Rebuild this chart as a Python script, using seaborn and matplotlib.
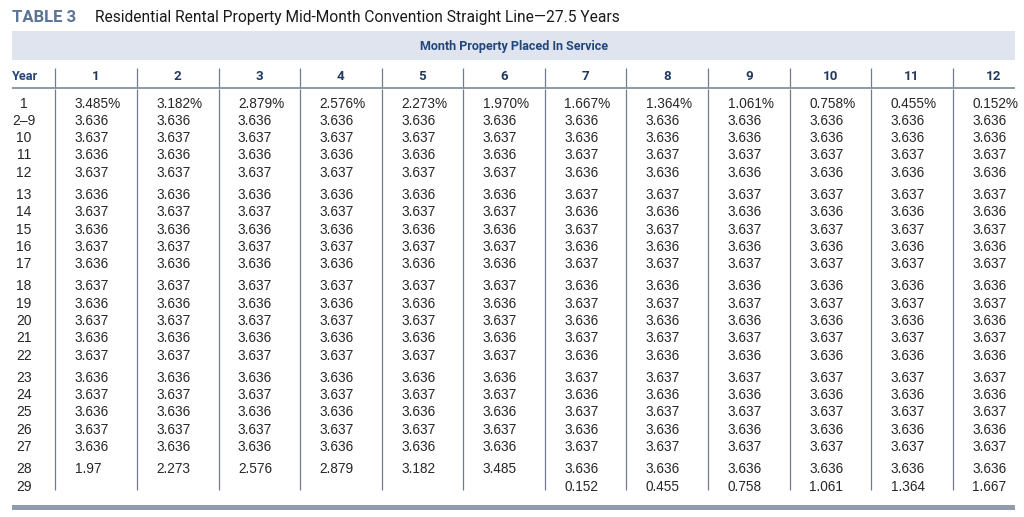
import matplotlib
matplotlib.use("Agg")
import matplotlib.pyplot as plt
import seaborn as sns

# ---------------- data ----------------
title_tag = "TABLE 3"
title_text = "Residential Rental Property Mid-Month Convention Straight Line\u201427.5 Years"
band_text = "Month Property Placed In Service"
months = ["1", "2", "3", "4", "5", "6", "7", "8", "9", "10", "11", "12"]
year_labels = ["1", "2\u20139", "10", "11", "12",
               "13", "14", "15", "16", "17",
               "18", "19", "20", "21", "22",
               "23", "24", "25", "26", "27",
               "28", "29"]
year_groups = [0, 0, 0, 0, 0, 1, 1, 1, 1, 1, 2, 2, 2, 2, 2, 3, 3, 3, 3, 3, 4, 4]

first_year = ["3.485%", "3.182%", "2.879%", "2.576%", "2.273%", "1.970%",
              "1.667%", "1.364%", "1.061%", "0.758%", "0.455%", "0.152%"]
years_2_9 = ["3.636", "3.636", "3.636", "3.636", "3.636", "3.636",
             "3.636", "3.636", "3.636", "3.636", "3.636", "3.636"]
# years 10..27, months 1-6 and months 7-12
middle_m1_6 = ["3.637", "3.636", "3.637", "3.636", "3.637", "3.636",
               "3.637", "3.636", "3.637", "3.636", "3.637", "3.636",
               "3.637", "3.636", "3.637", "3.636", "3.637", "3.636"]
middle_m7_12 = ["3.636", "3.637", "3.636", "3.637", "3.636", "3.637",
                "3.636", "3.637", "3.636", "3.637", "3.636", "3.637",
                "3.636", "3.637", "3.636", "3.637", "3.636", "3.637"]
year_28 = ["1.97", "2.273", "2.576", "2.879", "3.182", "3.485",
           "3.636", "3.636", "3.636", "3.636", "3.636", "3.636"]
year_29 = ["", "", "", "", "", "",
           "0.152", "0.455", "0.758", "1.061", "1.364", "1.667"]

# build the table column by column
table = []
for m in range(12):
    mid = middle_m1_6 if m < 6 else middle_m7_12
    table.append([first_year[m], years_2_9[m]] + mid + [year_28[m], year_29[m]])

# ---------------- style ----------------
sns.set_theme(style="white")
plt.rcParams["font.family"] = ["Liberation Sans", "DejaVu Sans"]
narrow = ["Roboto", "DejaVu Sans"]

navy = "#23467a"
dark_navy = "#213a5e"
steel = "#5b7595"
line_c = "#6e7e8e"
band_c = "#dfe4ee"
bar_c = "#8e9cab"
text_c = "#262626"

fig = plt.figure(figsize=(10.24, 5.17), dpi=100)
ax = fig.add_axes([0, 0, 1, 1])
ax.set_xlim(0, 1024)
ax.set_ylim(517, 0)
ax.axis("off")

left, right = 12, 1015
col0, col_w = 55.3, 81.6
row0, pitch, gap = 103.6, 17.25, 5.2

# title
ax.text(left, 17.5, title_tag, fontsize=12, fontweight="bold", color=steel,
        family=narrow, va="center", ha="left")
ax.text(95, 17.5, title_text, fontsize=11.2, color="#1a1a1a",
        family=narrow, va="center", ha="left")

# band
ax.add_patch(plt.Rectangle((left, 31), right - left, 29, color=band_c, lw=0))
ax.text((left + right) / 2 + 1, 46.5, band_text, fontsize=9.0, fontweight="bold",
        color=navy, family=narrow, va="center", ha="center")

# header row
ax.text(left, 77, "Year", fontsize=9.2, fontweight="bold", color=navy,
        family=narrow, va="center", ha="left")
for i, m in enumerate(months):
    x = col0 + i * col_w
    ax.text(x + col_w / 2, 77, m, fontsize=9.6, fontweight="bold", color=dark_navy,
            family=narrow, va="center", ha="center")
    ax.vlines(x, 68, 87, color=line_c, lw=0.9)
    ax.vlines(x, 89, 490, color=line_c, lw=0.9)
ax.hlines(88, left, right, color=line_c, lw=1.1)

# body
for r, lab in enumerate(year_labels):
    y = row0 + r * pitch + year_groups[r] * gap
    ax.text(24, y, lab, fontsize=10, color=text_c, va="center", ha="center")
    for i in range(12):
        val = table[i][r]
        if val:
            ax.text(col0 + i * col_w + 19.5, y, val, fontsize=9.8, color=text_c,
                    va="center", ha="left")

# bottom bar
ax.add_patch(plt.Rectangle((left, 505), right - left, 4.5, color=bar_c, lw=0))

fig.savefig("out.png", dpi=100)
